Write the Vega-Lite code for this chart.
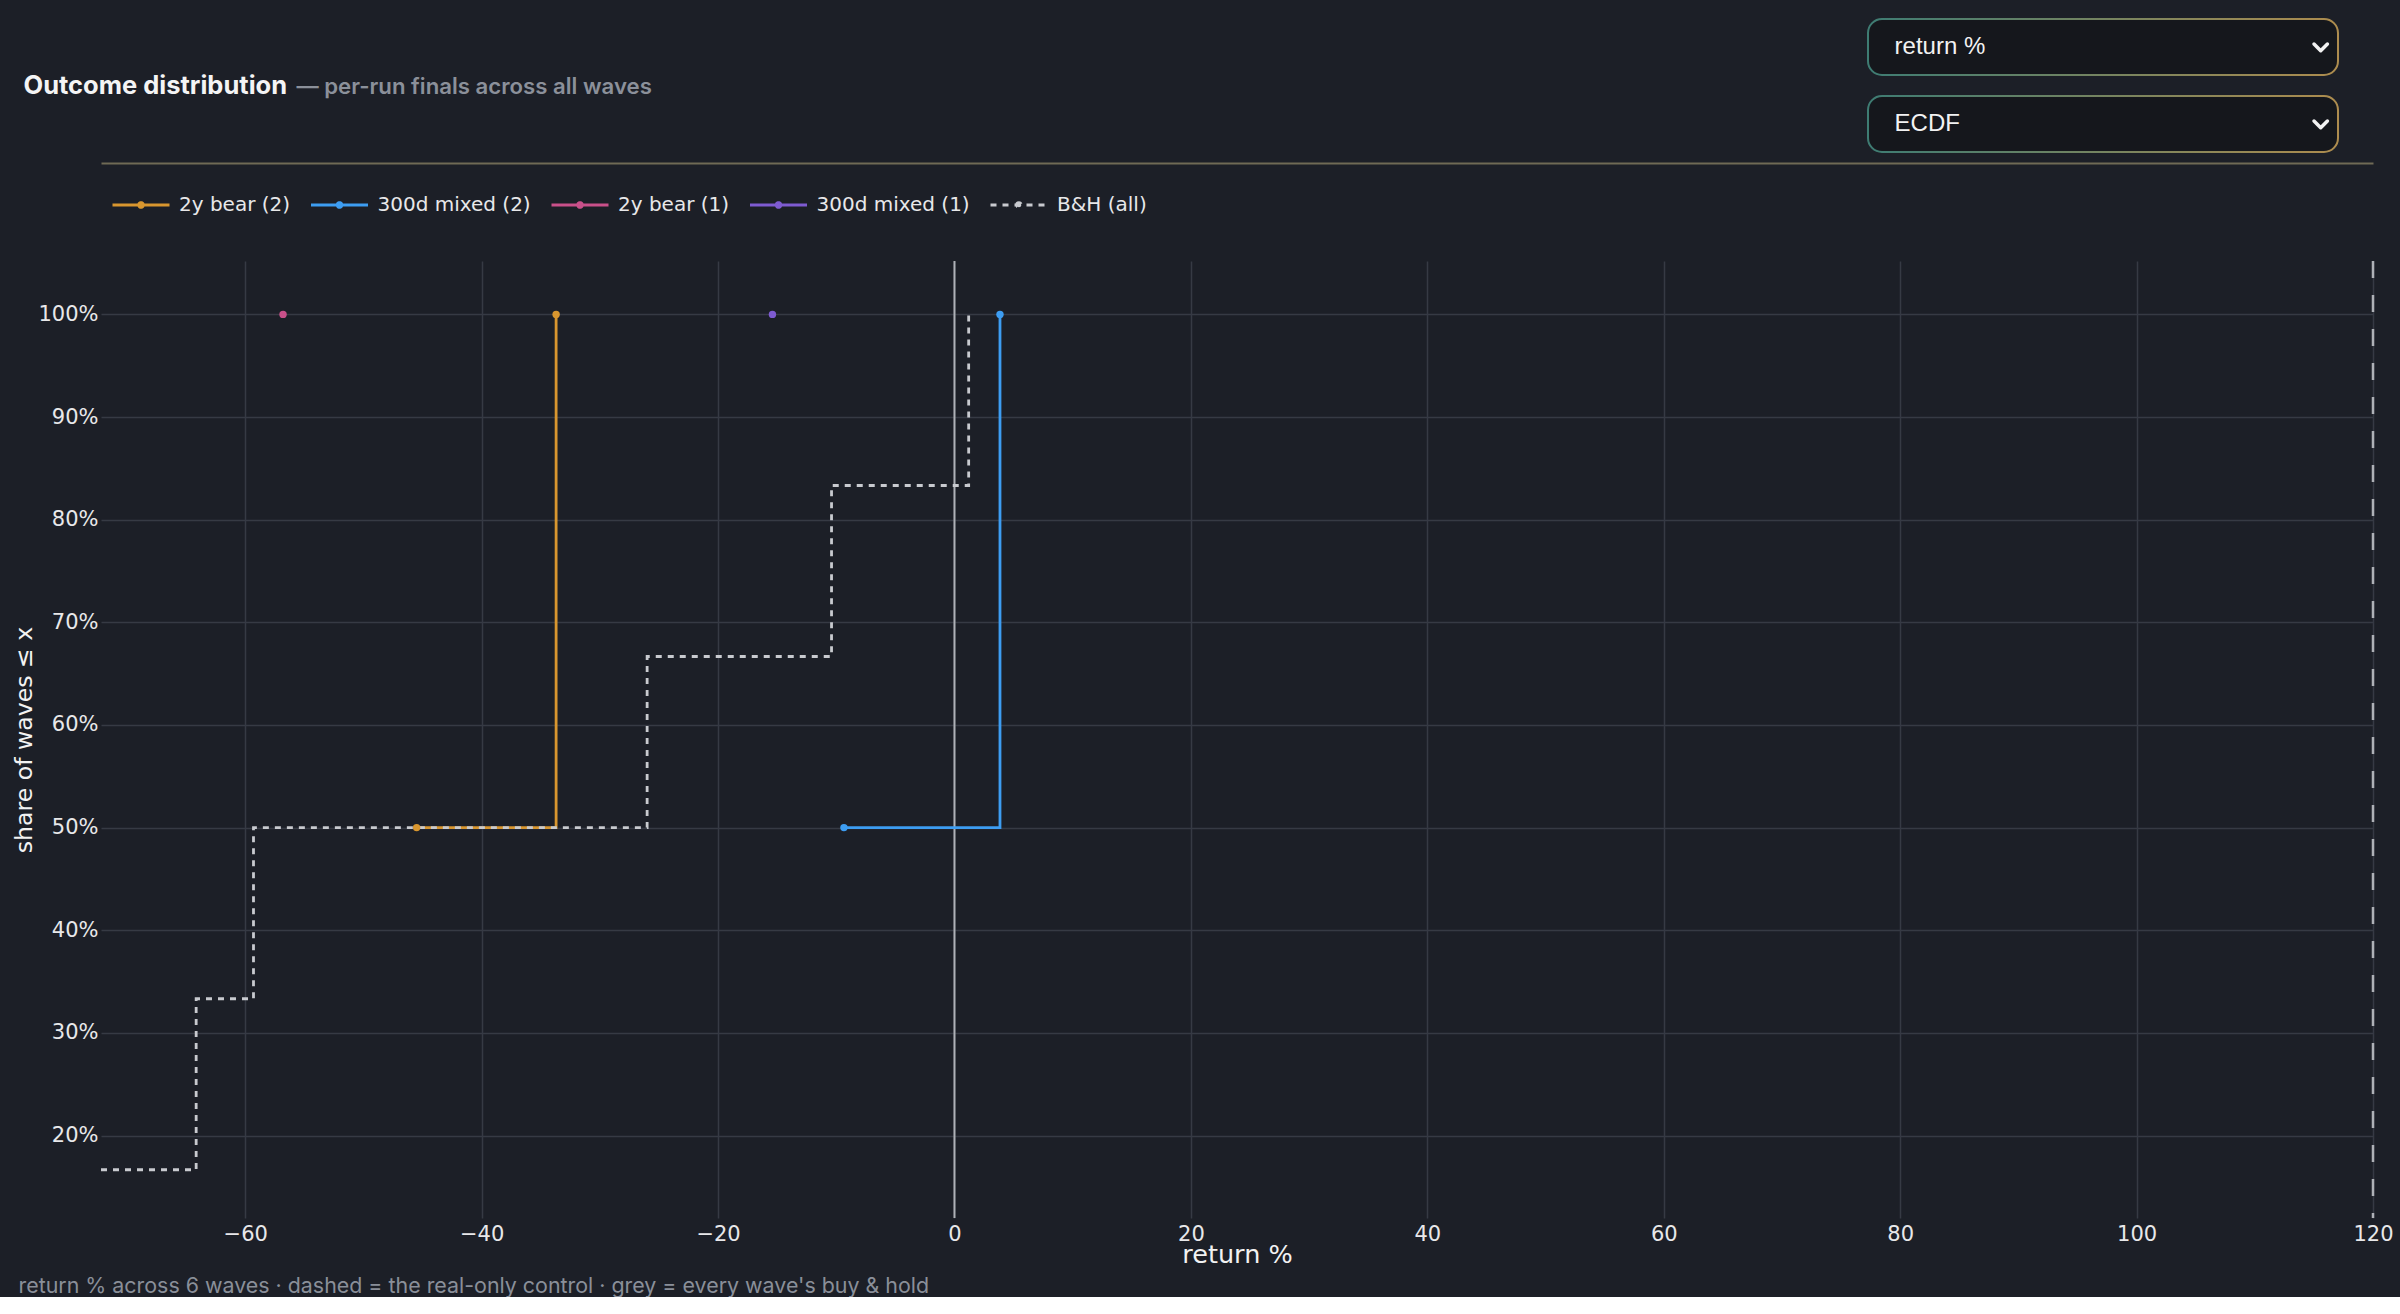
{
  "$schema": "https://vega.github.io/schema/vega-lite/v6.json",
  "description": "Outcome distribution: ECDF of per-run final return % across waves",
  "background": "#1c1f27",
  "padding": {"left": 12, "top": 18, "right": 9, "bottom": 0},
  "config": {
    "view": {"stroke": null},
    "font": "DejaVu Sans"
  },
  "resolve": {"scale": {"color": "independent", "strokeDash": "independent"}},
  "spacing": 10,
  "vconcat": [
    {
      "bounds": "flush",
      "spacing": 0,
      "hconcat": [
        {
          "width": 1,
          "height": 60,
          "data": {"values": []},
          "mark": "point",
          "title": {
            "text": "Outcome distribution",
            "orient": "bottom",
            "anchor": "start",
            "baseline": "alphabetic",
            "offset": 15,
            "dx": -77.5,
            "font": "Inter",
            "fontSize": 25.5,
            "fontWeight": 700,
            "color": "#f4f4f5"
          }
        },
        {
          "width": 1766,
          "height": 60,
          "data": {"values": []},
          "mark": "point",
          "title": {
            "text": "— per-run finals across all waves",
            "orient": "bottom",
            "anchor": "start",
            "baseline": "alphabetic",
            "offset": 15,
            "dx": 194.5,
            "font": "Inter",
            "fontSize": 22.2,
            "fontWeight": 600,
            "color": "#8b909a"
          }
        },
        {
          "spacing": 19,
          "vconcat": [
            {
              "width": 470,
              "height": 56,
              "view": {
                "fill": "#15171c",
                "stroke": {"gradient": "linear", "x1": 0, "y1": 0, "x2": 1, "y2": 0,
                  "stops": [{"offset": 0, "color": "#3e7c73"}, {"offset": 1, "color": "#ad8c4e"}]},
                "strokeWidth": 2,
                "cornerRadius": 14
              },
              "data": {"values": [{"label": "return %"}]},
              "layer": [
                {
                  "mark": {"type": "text", "align": "left", "baseline": "middle", "font": "Liberation Sans", "fontSize": 24, "color": "#f2f2f2"},
                  "encoding": {
                    "x": {"datum": 0, "type": "quantitative", "scale": {"domain": [-0.06, 1], "nice": false, "zero": false}, "axis": null},
                    "text": {"field": "label"}
                  }
                },
                {
                  "mark": {"type": "point", "shape": "M-0.8,-0.35L0,0.45L0.8,-0.35", "filled": false, "size": 280, "strokeWidth": 3.5, "color": "#f2f2f2", "opacity": 1, "strokeCap": "round", "strokeJoin": "round"},
                  "encoding": {"x": {"datum": 0.961, "type": "quantitative", "axis": null}}
                }
              ]
            },
            {
              "width": 470,
              "height": 56,
              "view": {
                "fill": "#15171c",
                "stroke": {"gradient": "linear", "x1": 0, "y1": 0, "x2": 1, "y2": 0,
                  "stops": [{"offset": 0, "color": "#3e7c73"}, {"offset": 1, "color": "#ad8c4e"}]},
                "strokeWidth": 2,
                "cornerRadius": 14
              },
              "data": {"values": [{"label": "ECDF"}]},
              "layer": [
                {
                  "mark": {"type": "text", "align": "left", "baseline": "middle", "font": "Liberation Sans", "fontSize": 24, "color": "#f2f2f2"},
                  "encoding": {
                    "x": {"datum": 0, "type": "quantitative", "scale": {"domain": [-0.06, 1], "nice": false, "zero": false}, "axis": null},
                    "text": {"field": "label"}
                  }
                },
                {
                  "mark": {"type": "point", "shape": "M-0.8,-0.35L0,0.45L0.8,-0.35", "filled": false, "size": 280, "strokeWidth": 3.5, "color": "#f2f2f2", "opacity": 1, "strokeCap": "round", "strokeJoin": "round"},
                  "encoding": {"x": {"datum": 0.961, "type": "quantitative", "axis": null}}
                }
              ]
            }
          ]
        }
      ]
    },
    {
      "width": 2272,
      "height": 957,
      "title": {
        "text": "return % across 6 waves · dashed = the real-only control · grey = every wave's buy & hold",
        "orient": "bottom",
        "anchor": "start",
        "frame": "bounds",
        "offset": 8,
        "dx": 6,
        "font": "Inter",
        "fontSize": 21.4,
        "fontWeight": 400,
        "color": "#8a8f99"
      },
      "data": {
        "values": [
          {"series": "2y bear (2)", "ret": -45.5, "share": 50},
          {"series": "2y bear (2)", "ret": -33.7, "share": 100},
          {"series": "300d mixed (2)", "ret": -9.35, "share": 50},
          {"series": "300d mixed (2)", "ret": 3.85, "share": 100},
          {"series": "2y bear (1)", "ret": -56.8, "share": 100},
          {"series": "300d mixed (1)", "ret": -15.4, "share": 100},
          {"series": "B&H (all)", "ret": -72.2, "share": 16.67},
          {"series": "B&H (all)", "ret": -64.15, "share": 33.33},
          {"series": "B&H (all)", "ret": -59.3, "share": 50},
          {"series": "B&H (all)", "ret": -26.0, "share": 66.67},
          {"series": "B&H (all)", "ret": -10.4, "share": 83.33},
          {"series": "B&H (all)", "ret": 1.2, "share": 100}
        ]
      },
      "resolve": {"axis": {"x": "independent"}},
      "layer": [
        {
          "data": {"values": [{"ref": 0}]},
          "mark": {"type": "rule", "color": "#aeb1b7", "strokeWidth": 2},
          "encoding": {
            "x": {
              "field": "ref",
              "type": "quantitative",
              "scale": {"domain": [-72.2, 120], "nice": false, "zero": false},
              "axis": {"orient": "top", "offset": 98, "domain": true, "domainColor": "#6f6a55", "domainWidth": 2, "labels": false, "ticks": false, "grid": false, "title": null}
            }
          }
        },
        {
          "data": {"values": [{"ref": 120}]},
          "mark": {"type": "rule", "color": "#aeb1b7", "strokeWidth": 2.5, "strokeDash": [17, 17]},
          "encoding": {"x": {"field": "ref", "type": "quantitative", "axis": null}}
        },
        {
          "mark": {"type": "line", "interpolate": "step-after", "strokeWidth": 2.8},
          "encoding": {
            "x": {
              "field": "ret",
              "type": "quantitative",
              "axis": {
                "orient": "bottom",
                "values": [-60, -40, -20, 0, 20, 40, 60, 80, 100, 120],
                "grid": true, "gridColor": "#363a44", "gridWidth": 1.5,
                "domain": false, "ticks": false, "labelFlush": false,
                "labelPadding": 5, "labelFontSize": 21, "labelColor": "#e8e8ea",
                "title": "return %", "titleFontSize": 25.5, "titleFontWeight": "normal", "titleColor": "#f2f2f2", "titlePadding": -2
              }
            },
            "y": {
              "field": "share",
              "type": "quantitative",
              "scale": {"domain": [11.97, 105.2], "nice": false, "zero": false},
              "axis": {
                "values": [20, 30, 40, 50, 60, 70, 80, 90, 100],
                "labelExpr": "datum.value + '%'",
                "grid": true, "gridColor": "#363a44", "gridWidth": 1.5,
                "domain": false, "ticks": false, "labelFlush": false,
                "labelPadding": 3, "labelFontSize": 21, "labelColor": "#e8e8ea",
                "title": "share of waves ≤ x", "titleFontSize": 23.6, "titleFontWeight": "normal", "titleColor": "#f2f2f2", "titlePadding": 1.5
              }
            },
            "color": {
              "field": "series",
              "type": "nominal",
              "scale": {
                "domain": ["2y bear (2)", "300d mixed (2)", "2y bear (1)", "300d mixed (1)", "B&H (all)"],
                "range": ["#d8962f", "#3d9df2", "#c9508a", "#7e5bd1", "#c8cacf"]
              },
              "legend": {
                "orient": "none", "legendX": 10, "legendY": -86, "direction": "horizontal", "title": null, "padding": 0,
                "symbolType": "M-1,0L1,0M-0.08,0A0.08,0.08,0,1,1,0.08,0A0.08,0.08,0,1,1,-0.08,0",
                "symbolSize": 3249, "symbolStrokeWidth": 3, "symbolOpacity": 1,
                "labelFontSize": 20, "labelColor": "#e8e8ea", "labelOffset": 8, "columnPadding": 13.5
              }
            },
            "strokeDash": {
              "field": "series",
              "type": "nominal",
              "scale": {
                "domain": ["2y bear (2)", "300d mixed (2)", "2y bear (1)", "300d mixed (1)", "B&H (all)"],
                "range": [[1, 0], [1, 0], [1, 0], [1, 0], [6, 6]]
              },
              "legend": {
                "orient": "none", "legendX": 10, "legendY": -86, "direction": "horizontal", "title": null, "padding": 0,
                "symbolType": "M-1,0L1,0M-0.08,0A0.08,0.08,0,1,1,0.08,0A0.08,0.08,0,1,1,-0.08,0",
                "symbolSize": 3249, "symbolStrokeWidth": 3, "symbolOpacity": 1,
                "labelFontSize": 20, "labelColor": "#e8e8ea", "labelOffset": 8, "columnPadding": 13.5
              }
            }
          }
        },
        {
          "transform": [{"filter": "datum.series !== 'B&H (all)'"}],
          "mark": {"type": "point", "filled": true, "size": 55, "opacity": 1},
          "encoding": {
            "x": {"field": "ret", "type": "quantitative", "axis": null},
            "y": {"field": "share", "type": "quantitative"},
            "color": {"field": "series", "type": "nominal"}
          }
        }
      ]
    }
  ]
}
